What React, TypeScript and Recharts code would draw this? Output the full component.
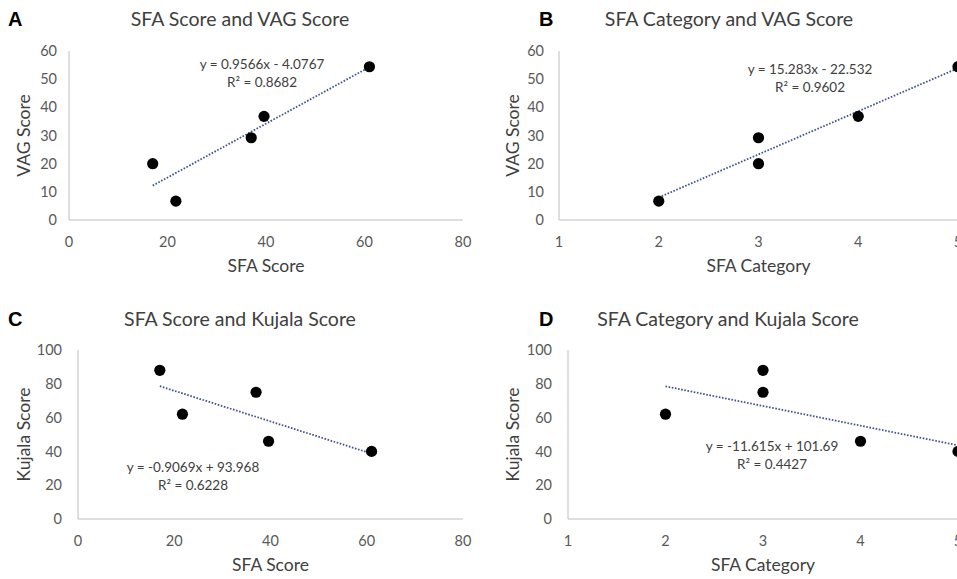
import React from 'react';
import { ScatterChart, Scatter, XAxis, YAxis } from 'recharts';

// Patient values (same five knees in every panel)
const sfaScore = [17, 21.7, 37, 39.6, 61];
const sfaCategory = [3, 2, 3, 4, 5];
const vagScore = [20, 6.7, 29.2, 36.8, 54.4];
const kujalaScore = [88, 62, 75, 46, 40];

// Trendline end points as drawn in the figure
const trendAx = [17, 61];
const trendAy = [12.2, 54.3];
const trendBx = [2, 5];
const trendBy = [8.0, 53.9];
const trendCx = [17, 61];
const trendCy = [78.6, 38.7];
const trendDx = [2, 5];
const trendDy = [78.5, 43.6];

const scoreTicks = [0, 20, 40, 60, 80];
const categoryTicks = [1, 2, 3, 4, 5];
const vagTicks = [0, 10, 20, 30, 40, 50, 60];
const kujalaTicks = [0, 20, 40, 60, 80, 100];

const pts = (xs: number[], ys: number[]) => xs.map((x, i) => ({ x, y: ys[i] }));

const TEXT = '#404040';
const TICK = '#595959';
const AXIS = '#bfbfbf';
const TREND = '#3f5393';

const Dot = (p: any) => <circle cx={p.cx} cy={p.cy} r={5.6} fill="#000" />;
const NoDot = () => <g />;

interface PanelProps {
  left: number;
  top: number;
  width: number;
  height: number;
  margin: { top: number; right: number; bottom: number; left: number };
  yTickGap: number;
  yLabelOffset: number;
  letter: string;
  letterX: number;
  title: string;
  titleX: number;
  titleY: number;
  xLabel: string;
  yLabel: string;
  xDomain: [number, number];
  xTicks: number[];
  yDomain: [number, number];
  yTicks: number[];
  data: { x: number; y: number }[];
  trend: { x: number; y: number }[];
  eq: string;
  r2: string;
  eqX: number;
  eqY: number;
}

const Panel = (p: PanelProps) => (
  <div style={{ position: 'absolute', left: p.left, top: p.top, width: p.width, height: p.height }}>
    <div style={{ position: 'absolute', left: p.letterX, top: p.titleY - 11, fontFamily: 'Liberation Sans', fontWeight: 'bold', fontSize: 20, lineHeight: '22px', color: '#000' }}>
      {p.letter}
    </div>
    <div style={{ position: 'absolute', left: p.titleX - 200, width: 400, top: p.titleY - 12, textAlign: 'center', fontSize: 19.5, color: TEXT, lineHeight: '24px' }}>
      {p.title}
    </div>
    <div style={{ position: 'absolute', left: p.eqX - 100, width: 200, top: p.eqY - 9, textAlign: 'center', fontSize: 13.5, color: TEXT, lineHeight: '18px' }}>
      <div>{p.eq}</div>
      <div>R² = {p.r2}</div>
    </div>
    <ScatterChart width={p.width} height={p.height} margin={p.margin} style={{ position: 'absolute', left: 0, top: 0 }}>
      <XAxis
        type="number"
        dataKey="x"
        domain={p.xDomain}
        ticks={p.xTicks}
        height={60}
        stroke={AXIS}
        tickLine={false}
        tickSize={0}
        tickMargin={17}
        tick={{ fill: TICK, fontSize: 14.5 }}
        allowDataOverflow
        label={{ value: p.xLabel, position: 'insideTop', offset: 40, fill: TEXT, fontSize: 17.5 }}
      />
      <YAxis
        type="number"
        dataKey="y"
        domain={p.yDomain}
        ticks={p.yTicks}
        width={60}
        stroke={AXIS}
        tickLine={false}
        tickSize={0}
        tickMargin={p.yTickGap}
        tick={{ fill: TICK, fontSize: 14.5 }}
        label={{ value: p.yLabel, position: 'insideLeft', angle: -90, offset: p.yLabelOffset, fill: TEXT, fontSize: 17.5, style: { textAnchor: 'middle' } }}
      />
      <Scatter
        data={p.trend}
        shape={NoDot}
        line={{ stroke: TREND, strokeWidth: 1.8, strokeDasharray: '1.6 1.6' }}
        isAnimationActive={false}
        legendType="none"
      />
      <Scatter data={p.data} shape={Dot} isAnimationActive={false} />
    </ScatterChart>
  </div>
);

export default function App() {
  return (
    <div style={{ position: 'absolute', left: 0, top: 0, width: 957, height: 579, overflow: 'hidden', background: '#fff', fontFamily: 'Lato, sans-serif' }}>
      <Panel
        left={0} top={0} width={480} height={290}
        margin={{ top: 51, right: 17, bottom: 10, left: 9 }}
        yTickGap={12} yLabelOffset={15}
        letter="A" letterX={8}
        title="SFA Score and VAG Score" titleX={240} titleY={19}
        xLabel="SFA Score" yLabel="VAG Score"
        xDomain={[0, 80]} xTicks={scoreTicks}
        yDomain={[0, 60]} yTicks={vagTicks}
        data={pts(sfaScore, vagScore)} trend={pts(trendAx, trendAy)}
        eq="y = 0.9566x - 4.0767" r2="0.8682" eqX={262} eqY={64}
      />
      <Panel
        left={477} top={0} width={500} height={290}
        margin={{ top: 51, right: 19, bottom: 10, left: 22 }}
        yTickGap={15} yLabelOffset={14}
        letter="B" letterX={62}
        title="SFA Category and VAG Score" titleX={252} titleY={19}
        xLabel="SFA Category" yLabel="VAG Score"
        xDomain={[1, 5]} xTicks={categoryTicks}
        yDomain={[0, 60]} yTicks={vagTicks}
        data={pts(sfaCategory, vagScore)} trend={pts(trendBx, trendBy)}
        eq="y = 15.283x - 22.532" r2="0.9602" eqX={333} eqY={69}
      />
      <Panel
        left={0} top={290} width={480} height={289}
        margin={{ top: 60, right: 17, bottom: 0, left: 18 }}
        yTickGap={16} yLabelOffset={6}
        letter="C" letterX={8}
        title="SFA Score and Kujala Score" titleX={240} titleY={29}
        xLabel="SFA Score" yLabel="Kujala Score"
        xDomain={[0, 80]} xTicks={scoreTicks}
        yDomain={[0, 100]} yTicks={kujalaTicks}
        data={pts(sfaScore, kujalaScore)} trend={pts(trendCx, trendCy)}
        eq="y = -0.9069x + 93.968" r2="0.6228" eqX={193} eqY={177}
      />
      <Panel
        left={477} top={290} width={500} height={289}
        margin={{ top: 60, right: 19, bottom: 0, left: 31 }}
        yTickGap={16} yLabelOffset={5}
        letter="D" letterX={62}
        title="SFA Category and Kujala Score" titleX={251} titleY={29}
        xLabel="SFA Category" yLabel="Kujala Score"
        xDomain={[1, 5]} xTicks={categoryTicks}
        yDomain={[0, 100]} yTicks={kujalaTicks}
        data={pts(sfaCategory, kujalaScore)} trend={pts(trendDx, trendDy)}
        eq="y = -11.615x + 101.69" r2="0.4427" eqX={295} eqY={156}
      />
    </div>
  );
}
